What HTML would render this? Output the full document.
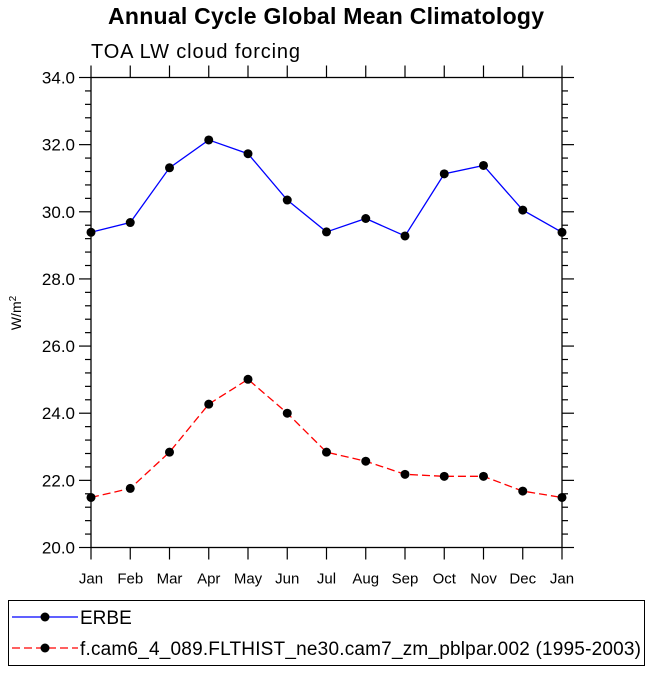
<!DOCTYPE html>
<html><head><meta charset="utf-8"><style>
body{margin:0;background:#fff;font-family:"Liberation Sans",sans-serif;}
svg text{font-family:"Liberation Sans",sans-serif;}
</style></head><body>
<svg id="chart" width="650" height="670">
<text x="326" y="24" text-anchor="middle" font-size="23" font-weight="bold" textLength="436">Annual Cycle Global Mean Climatology</text>
<text x="91" y="58" font-size="20" textLength="209">TOA LW cloud forcing</text>
<g id="axes"></g>
<g id="series"></g>
<text transform="translate(21,313) rotate(-90)" text-anchor="middle" font-size="14">W/m<tspan dy="-5" font-size="10">2</tspan></text>
<rect x="8.5" y="600.5" width="636" height="65" fill="none" stroke="#000"/>
<g>
<line x1="12" y1="617" x2="78" y2="617" stroke="#00f" stroke-width="1.3"/>
<circle cx="45" cy="617" r="4.5" fill="#000"/>
<text x="80" y="624" font-size="19">ERBE</text></g>
<g>
<line x1="12" y1="648" x2="78" y2="648" stroke="#f00" stroke-width="1.3" stroke-dasharray="8,4"/>
<circle cx="45" cy="648" r="4.5" fill="#000"/>
<text x="80" y="655" font-size="19" textLength="561">f.cam6_4_089.FLTHIST_ne30.cam7_zm_pblpar.002 (1995-2003)</text></g>
</svg>
<script>
const months=["Jan","Feb","Mar","Apr","May","Jun","Jul","Aug","Sep","Oct","Nov","Dec","Jan"];
const erbe=[29.39,29.68,31.31,32.14,31.73,30.35,29.40,29.80,29.28,31.13,31.38,30.05,29.39];
const model=[21.49,21.76,22.84,24.27,25.01,24.0,22.84,22.57,22.18,22.12,22.12,21.68,21.49];
const yTicks=[20,22,24,26,28,30,32,34];
const L=91,R=562,T=77.5,B=547.5,ymin=20,ymax=34;
const xs=i=>L+(R-L)*i/(months.length-1);
const ys=v=>B-(v-ymin)/(ymax-ymin)*(B-T);
const NS="http://www.w3.org/2000/svg";
function mk(p,tag,a){const e=document.createElementNS(NS,tag);for(const k in a)e.setAttribute(k,a[k]);p.appendChild(e);return e;}
const ax=document.getElementById('axes');
const frame=mk(ax,'rect',{x:L,y:T,width:R-L,height:B-T,fill:'none',stroke:'#000','stroke-width':1.3});


months.forEach((m,i)=>{const x=xs(i);
mk(ax,'line',{x1:x,y1:B,x2:x,y2:B+12,stroke:'#000','stroke-width':1.2});
mk(ax,'line',{x1:x,y1:T,x2:x,y2:T-12,stroke:'#000','stroke-width':1.2});
const t=mk(ax,'text',{x:x,y:B+36,'text-anchor':'middle','font-size':15});t.textContent=m;

});
for(let v=ymin;v<=ymax+1e-6;v+=0.4){const y=ys(v);const major=Math.abs(v-Math.round(v))<1e-6&&Math.round(v)%2===0;const len=major?12:6;
mk(ax,'line',{x1:L,y1:y,x2:L-len,y2:y,stroke:'#000','stroke-width':1.2});
mk(ax,'line',{x1:R,y1:y,x2:R+len,y2:y,stroke:'#000','stroke-width':1.2});}
yTicks.forEach(v=>{const t=mk(ax,'text',{x:L-16,y:ys(v)+6,'text-anchor':'end','font-size':17});t.textContent=v.toFixed(1);

});
const sg=document.getElementById('series');
function draw(vals,color,dash,name){const g=mk(sg,'g',{});


const a={points:vals.map((v,i)=>xs(i)+','+ys(v)).join(' '),fill:'none',stroke:color,'stroke-width':1.3};if(dash)a['stroke-dasharray']=dash;mk(g,'polyline',a);
vals.forEach((v,i)=>{const c=mk(g,'circle',{cx:xs(i),cy:ys(v),r:4.5,fill:'#000'});

});}
draw(erbe,'#00f',null,'series-erbe');
draw(model,'#f00','8,4','series-model');
</script>
</body></html>
